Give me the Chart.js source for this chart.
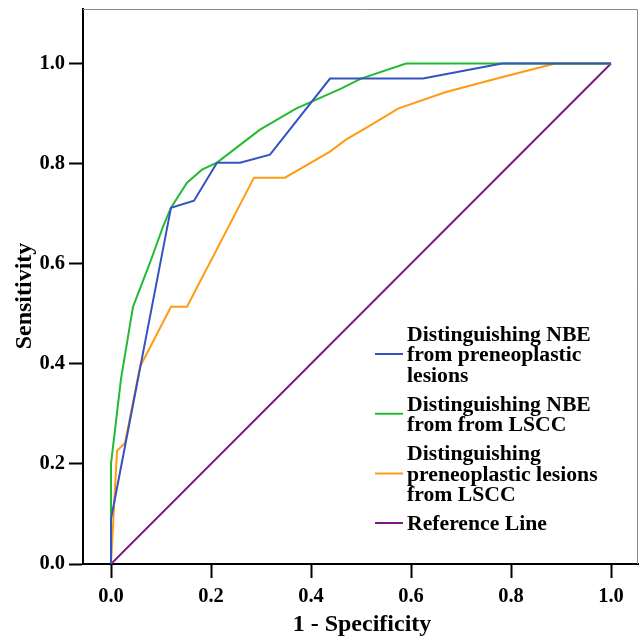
<!DOCTYPE html>
<html><head><meta charset="utf-8">
<script src="https://cdn.jsdelivr.net/npm/chart.js@4.4.0/dist/chart.umd.min.js"></script>
<style>html,body{margin:0;padding:0;background:#fff}#wrap{width:639px;height:638px;position:relative}</style>
</head><body><div id="wrap"><canvas id="c" width="639" height="638"></canvas></div>
<script>
// ---- data ----
const seriesLabels = [
  ["Distinguishing NBE", "from preneoplastic", "lesions"],
  ["Distinguishing NBE", "from from LSCC"],
  ["Distinguishing", "preneoplastic lesions", "from LSCC"],
  ["Reference Line"]
];
const seriesColors = ["#3553c0", "#22bb33", "#ff9a12", "#7b1a82"];

const nbePreX = [0, 0, 0.12, 0.166, 0.212, 0.258, 0.318, 0.438, 0.624, 0.782, 1.0];
const nbePreY = [0, 0.09, 0.712, 0.726, 0.802, 0.802, 0.818, 0.970, 0.970, 1.0, 1.0];

const nbeLsccX = [0, 0, 0.02, 0.044, 0.078, 0.104, 0.12, 0.152, 0.182, 0.212, 0.298, 0.37, 0.46, 0.50, 0.59, 1.0];
const nbeLsccY = [0, 0.20, 0.37, 0.514, 0.602, 0.674, 0.712, 0.762, 0.788, 0.802, 0.868, 0.91, 0.95, 0.97, 1.0, 1.0];

const preLsccX = [0, 0.012, 0.028, 0.058, 0.12, 0.152, 0.286, 0.348, 0.438, 0.47, 0.538, 0.574, 0.67, 0.772, 0.888, 1.0];
const preLsccY = [0, 0.226, 0.242, 0.394, 0.514, 0.514, 0.772, 0.772, 0.824, 0.848, 0.888, 0.910, 0.943, 0.970, 1.0, 1.0];

const refX = [0, 1];
const refY = [0, 1];

const tickValues = [0, 0.2, 0.4, 0.6, 0.8, 1.0];
const xTitle = "1 - Specificity";
const yTitle = "Sensitivity";

// ---- build ----
const FONT = "'Liberation Serif','Times New Roman',serif";
function pts(xs, ys){ return xs.map((x,i)=>({x:x, y:ys[i]})); }
const seriesData = [pts(nbePreX,nbePreY), pts(nbeLsccX,nbeLsccY), pts(preLsccX,preLsccY), pts(refX,refY)];

const datasets = seriesData.map((d,i)=>({
  label: seriesLabels[i].join(' '),
  data: d,
  borderColor: seriesColors[i],
  backgroundColor: seriesColors[i],
  borderWidth: 2,
  pointRadius: 0,
  showLine: true,
  tension: 0,
  fill: false
}));

const decorPlugin = {
  id: 'decor',
  afterDraw(chart){
    const ctx = chart.ctx, ca = chart.chartArea;
    ctx.save();
    // grey frame top/right
    ctx.strokeStyle = '#8c8c8c';
    ctx.lineWidth = 1;
    ctx.beginPath();
    ctx.moveTo(ca.left, ca.top + 0.5);
    ctx.lineTo(ca.right - 0.5, ca.top + 0.5);
    ctx.lineTo(ca.right - 0.5, ca.bottom);
    ctx.stroke();
    // axis titles
    ctx.fillStyle = '#000';
    ctx.font = "bold 24px " + FONT;
    ctx.textAlign = 'center';
    ctx.textBaseline = 'middle';
    ctx.fillText(xTitle, 362, 625);
    ctx.save();
    ctx.translate(25, 296);
    ctx.rotate(-Math.PI/2);
    ctx.fillText(yTitle, 0, 0);
    ctx.restore();
    // legend
    const sx0 = ca.right - 263, sx1 = ca.right - 235, tx = ca.right - 231;
    const lh = 20.5, gap = 8.5;
    let y = ca.top + 326;
    ctx.font = "bold 21.7px " + FONT;
    ctx.textAlign = 'left';
    seriesLabels.forEach((lines, i) => {
      const n = lines.length;
      const mid = y + (n - 1) * lh / 2 - 1.5;
      ctx.strokeStyle = seriesColors[i];
      ctx.lineWidth = 2;
      ctx.beginPath();
      ctx.moveTo(sx0, mid);
      ctx.lineTo(sx1, mid);
      ctx.stroke();
      ctx.fillStyle = '#000';
      lines.forEach((t, k) => ctx.fillText(t, tx, y + k * lh));
      y += n * lh + gap;
    });
    ctx.restore();
  }
};

new Chart(document.getElementById('c'), {
  type: 'scatter',
  data: { datasets: datasets },
  options: {
    responsive: false,
    animation: false,
    devicePixelRatio: 1,
    layout: { padding: { top: 9, right: 1, left: 0, bottom: 0 } },
    plugins: { legend: { display: false }, tooltip: { enabled: false } },
    scales: {
      x: {
        type: 'linear', min: -0.056, max: 1.054,
        afterBuildTicks(s){ s.ticks = tickValues.map(v=>({value:v})); },
        afterFit(s){ s.height = 74; s.paddingLeft = 0; s.paddingRight = 0; },
        border: { display: true, color: '#000', width: 2 },
        grid: { display: true, drawOnChartArea: false, drawTicks: true, tickLength: 14, tickWidth: 2, tickColor: '#000', color: '#000' },
        ticks: { color: '#000', padding: 6, font: { family: FONT, size: 20.5, weight: 'bold' }, maxRotation: 0,
          callback: v => v.toFixed(1) },
        title: { display: false }
      },
      y: {
        type: 'linear', min: 0, max: 1.109,
        afterBuildTicks(s){ s.ticks = tickValues.map(v=>({value:v})); },
        afterFit(s){ s.width = 83; s.paddingTop = 0; s.paddingBottom = 0; },
        border: { display: true, color: '#000', width: 2 },
        grid: { display: true, drawOnChartArea: false, drawTicks: true, tickLength: 14, tickWidth: 2, tickColor: '#000', color: '#000' },
        ticks: { color: '#000', padding: 4, font: { family: FONT, size: 20.5, weight: 'bold' },
          callback: v => v.toFixed(1) },
        title: { display: false }
      }
    }
  },
  plugins: [decorPlugin]
});
</script></body></html>
